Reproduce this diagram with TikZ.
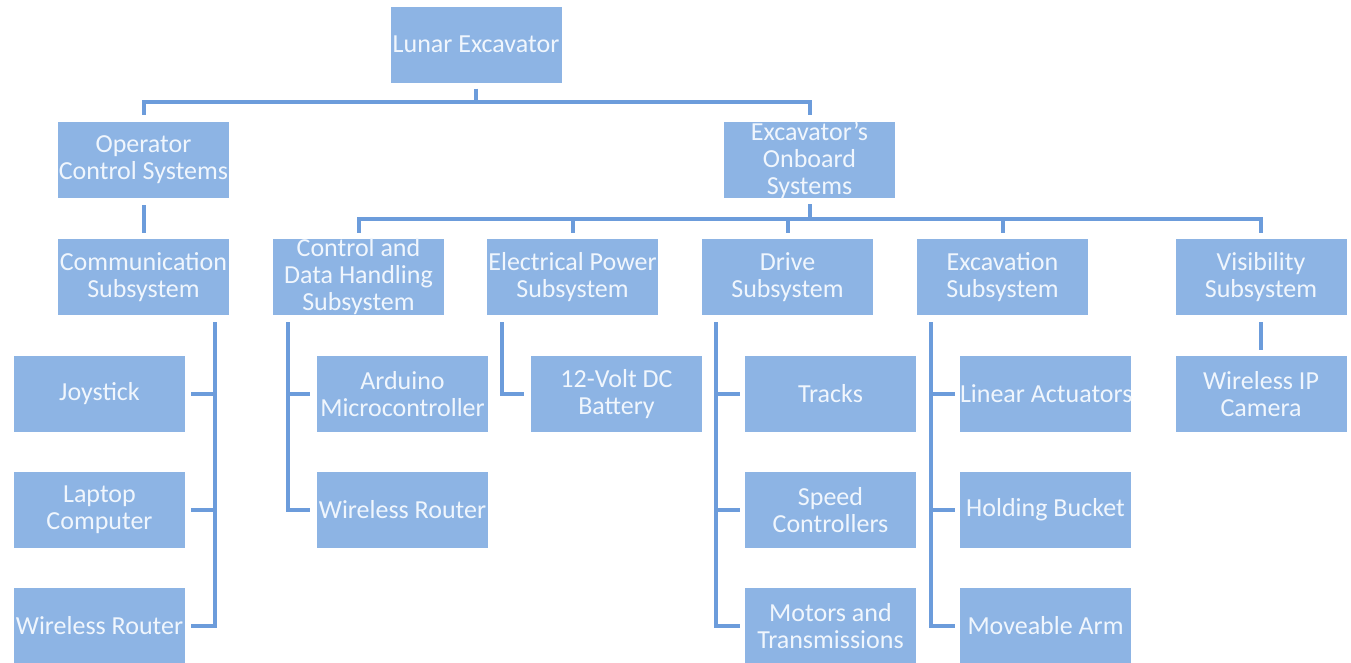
\documentclass[tikz,border=0pt]{standalone}
\usepackage{fontspec}
\setmainfont{Carlito}
\definecolor{boxblue}{RGB}{141,180,228}
\definecolor{lineblue}{RGB}{108,156,219}
\definecolor{boxtext}{RGB}{240,246,253}
% fixed-size cell: 171 x 76, text may spill past the edges
\newcommand{\cell}[1]{\parbox[c][76pt][c]{171pt}{\centering #1}}
% a single line that is kept whole even when wider than the cell
\newcommand{\oneline}[1]{\makebox[\linewidth][l]{#1}}
\tikzset{
  unit/.style={fill=boxblue, inner sep=0pt, text=boxtext,
    font=\fontsize{26}{27}\selectfont},
  conn/.style={draw=lineblue, line width=4pt, line join=miter}
}
\begin{document}
\begin{tikzpicture}[x=1pt, y=-1pt]
\useasboundingbox (0,0) rectangle (1351,662);
\fill[white] (0,0) rectangle (1351,662);

% level 0 and 1
\node[unit] (root) at (476,44.5)   {\cell{Lunar Excavator}};
\node[unit] (ocs)  at (143.5,160)  {\cell{Operator\\Control Systems}};
\node[unit] (eos)  at (809.5,160)  {\cell{Excavator's\\Onboard\\Systems}};

% level 2
\node[unit] (comm) at (143.5,277)  {\cell{Communication\\Subsystem}};
\node[unit] (cdh)  at (358.5,277)  {\cell{Control and\\Data Handling\\Subsystem}};
\node[unit] (eps)  at (572.5,277)  {\cell{Electrical Power\\Subsystem}};
\node[unit] (drv)  at (787.5,277)  {\cell{Drive\\Subsystem}};
\node[unit] (exc)  at (1002.5,277) {\cell{Excavation\\Subsystem}};
\node[unit] (vis)  at (1261,277)   {\cell{Visibility\\Subsystem}};

% level 3
\node[unit] (joy)  at (99.5,394)   {\cell{Joystick}};
\node[unit] (lap)  at (99.5,510)   {\cell{Laptop\\Computer}};
\node[unit] (wra)  at (99.5,626)   {\cell{Wireless Router}};
\node[unit] (ard)  at (402.5,394)  {\cell{Arduino\\Microcontroller}};
\node[unit] (wrb)  at (402.5,510)  {\cell{Wireless Router}};
\node[unit] (bat)  at (616.5,394)  {\cell{12-Volt DC\\Battery}};
\node[unit] (trk)  at (830.5,394)  {\cell{Tracks}};
\node[unit] (spd)  at (830.5,510)  {\cell{Speed\\Controllers}};
\node[unit] (mot)  at (830.5,626)  {\cell{Motors and\\Transmissions}};
\node[unit] (lin)  at (1045.5,394) {\cell{\oneline{Linear Actuators}}};
\node[unit] (hld)  at (1045.5,510) {\cell{Holding Bucket}};
\node[unit] (arm)  at (1045.5,626) {\cell{Moveable Arm}};
\node[unit] (cam)  at (1261,394)   {\cell{Wireless IP\\Camera}};

% top bus
\draw[conn] ([yshift=-6pt]root.south) -- (root.south |- 0,102);
\draw[conn] ([yshift=7pt]ocs.north) |- (0,102 -| eos.north) -- ([yshift=7pt]eos.north);

% operator side
\draw[conn] ([yshift=-7pt]ocs.south) -- ([yshift=6pt]comm.north);

% onboard bus
\draw[conn] ([yshift=-6pt]eos.south) -- (eos.south |- 0,219);
\draw[conn] ([yshift=6pt]cdh.north) |- (0,219 -| vis.north) -- ([yshift=6pt]vis.north);
\draw[conn] ([yshift=6pt]eps.north) -- (eps.north |- 0,219);
\draw[conn] ([yshift=6pt]drv.north) -- (drv.north |- 0,219);
\draw[conn] ([yshift=6pt]exc.north) -- (exc.north |- 0,219);

% communication trunk
\coordinate (tc) at ([xshift=71.5pt,yshift=-7pt]comm.south);
\draw[conn] ([xshift=6pt]wra.east) -| (tc);
\draw[conn] ([xshift=6pt]joy.east) -- (joy.east -| tc);
\draw[conn] ([xshift=6pt]lap.east) -- (lap.east -| tc);

% control and data handling trunk
\coordinate (td) at ([xshift=-70.5pt,yshift=-7pt]cdh.south);
\draw[conn] ([xshift=-7pt]wrb.west) -| (td);
\draw[conn] ([xshift=-7pt]ard.west) -- (ard.west -| td);

% electrical power trunk
\coordinate (te) at ([xshift=-70.5pt,yshift=-7pt]eps.south);
\draw[conn] ([xshift=-7pt]bat.west) -| (te);

% drive trunk
\coordinate (tv) at ([xshift=-71.5pt,yshift=-7pt]drv.south);
\draw[conn] ([xshift=-5pt]mot.west) -| (tv);
\draw[conn] ([xshift=-5pt]trk.west) -- (trk.west -| tv);
\draw[conn] ([xshift=-5pt]spd.west) -- (spd.west -| tv);

% excavation trunk
\coordinate (tx) at ([xshift=-71.5pt,yshift=-7pt]exc.south);
\draw[conn] ([xshift=-5pt]arm.west) -| (tx);
\draw[conn] ([xshift=-5pt]lin.west) -- (lin.west -| tx);
\draw[conn] ([xshift=-5pt]hld.west) -- (hld.west -| tx);

% visibility
\draw[conn] ([yshift=-7pt]vis.south) -- ([yshift=6pt]cam.north);
\end{tikzpicture}
\end{document}
